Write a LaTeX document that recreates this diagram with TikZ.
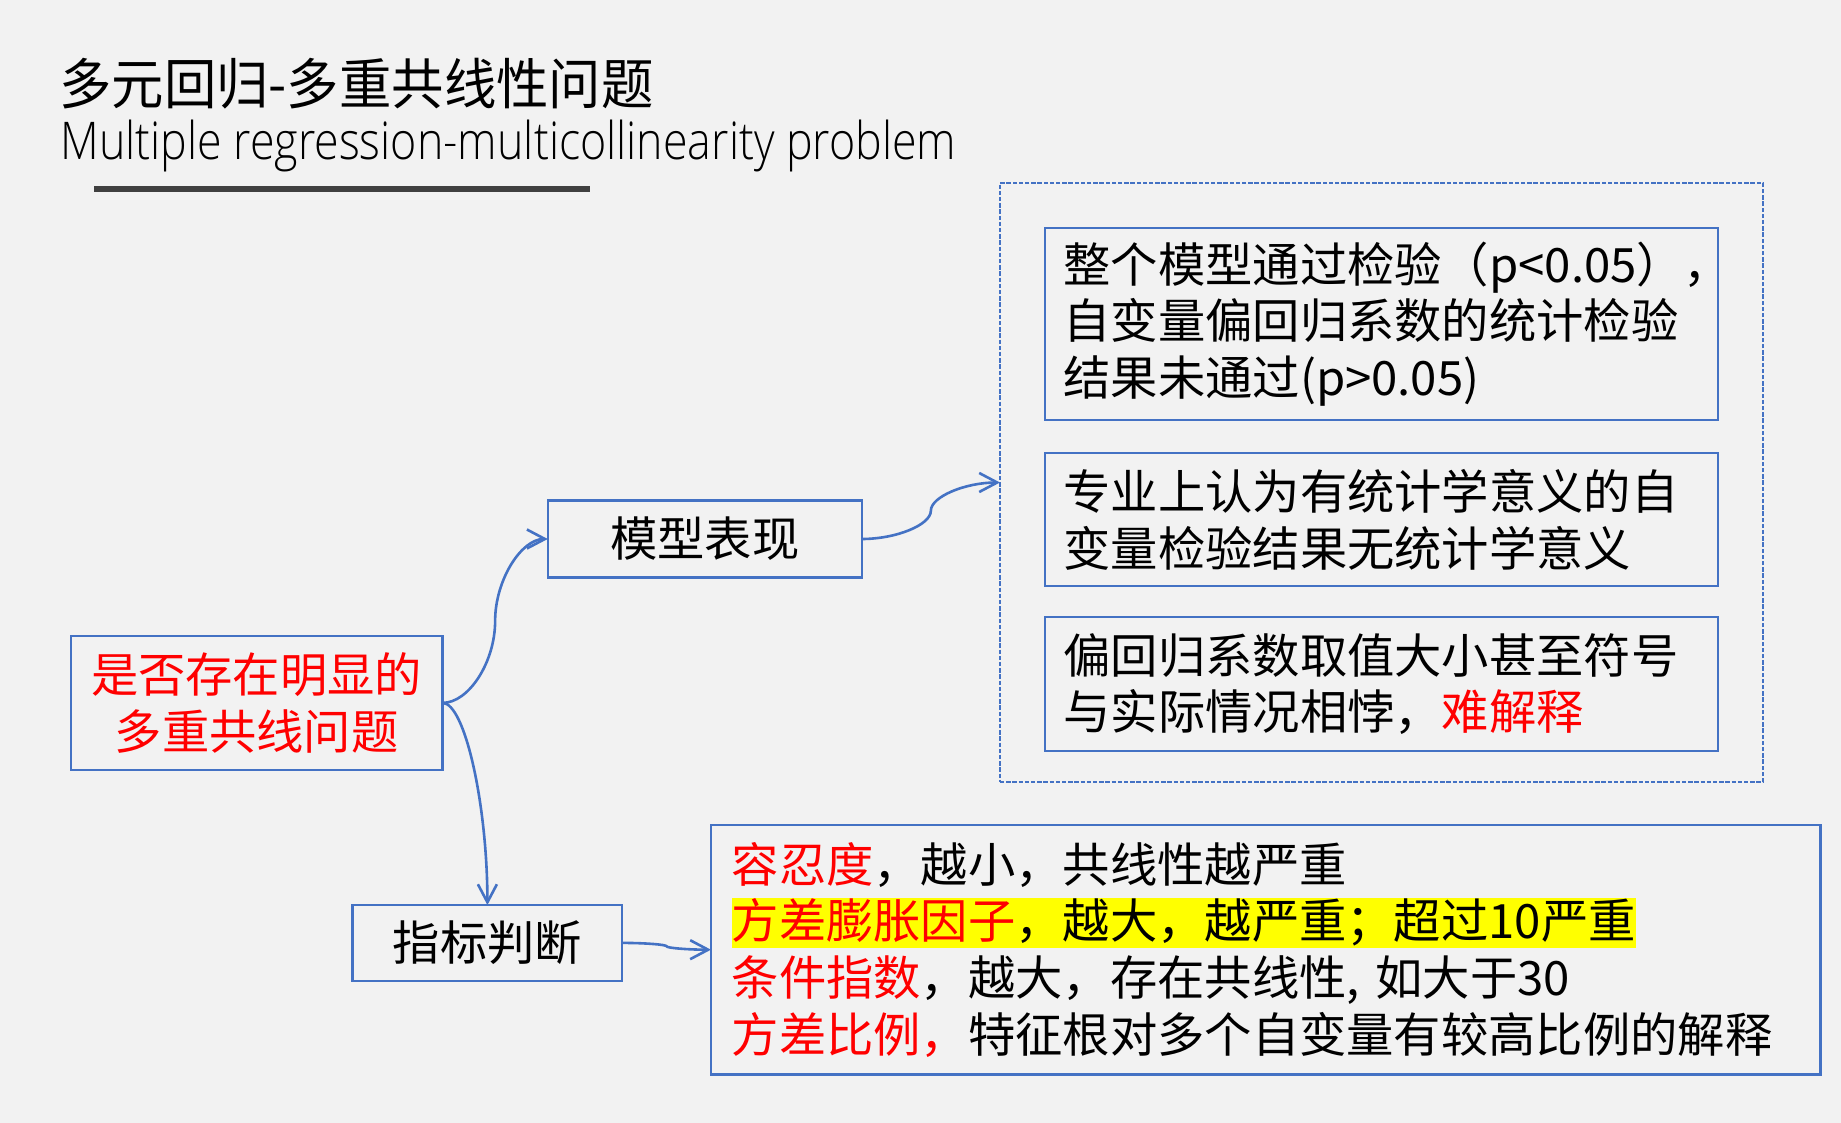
\documentclass[tikz,border=0pt]{standalone}
\usepackage{fontspec}
\usepackage{graphicx}
\setmainfont{Noto Sans CJK SC}
% a light Latin face for the English heading, regular sans otherwise
\IfFontExistsTF{Open Sans Light}
  {\newfontfamily\latinhead{Open Sans Light}}
  {\IfFontExistsTF{Lato Light}
    {\newfontfamily\latinhead{Lato Light}}
    {\IfFontExistsTF{Fira Sans Light}
      {\newfontfamily\latinhead{Fira Sans Light}}
      {\newfontfamily\latinhead{Noto Sans CJK SC}}}}
\usetikzlibrary{arrows.meta,calc}

\definecolor{pageback}{HTML}{F2F2F2}
\definecolor{linkblue}{HTML}{4472C4}
\definecolor{alertred}{HTML}{FF0000}
\definecolor{rulegray}{HTML}{404040}
\definecolor{marker}{HTML}{FFFF00}

\newcommand{\bodyfont}{\fontsize{23.65pt}{28.4pt}\selectfont}
\newcommand{\hlmark}[1]{{\setlength{\fboxsep}{0pt}\colorbox{marker}{\rule[-0.2em]{0pt}{1.06em}#1}}}

\begin{document}
\begin{tikzpicture}[x=0.5pt,y=-0.5pt,
  box/.style={draw=linkblue, line width=1.1pt, inner sep=0pt, outer sep=0pt,
    font=\bodyfont, text=black},
  frame/.style={draw=linkblue, line width=0.6pt, dash pattern=on 2.2pt off 0.9pt,
    inner sep=0pt, outer sep=0pt},
  link/.style={draw=linkblue, line width=1.3pt,
    -{Straight Barb[length=9pt,width=9.5pt]}},
]
% page
\fill[pageback] (0,0) rectangle (1841,1123);
\useasboundingbox (0,0) rectangle (1841,1123);

% heading
\node[anchor=west, inner sep=0pt, font=\fontsize{27.5pt}{30pt}\selectfont]
  (titlecn) at (59,84) {\resizebox{297pt}{\height}{多元回归-多重共线性问题}};
\node[anchor=base west, inner sep=0pt, font=\latinhead\fontsize{26pt}{30pt}\selectfont]
  (titleen) at (60,160) {\resizebox{448pt}{\height}{Multiple regression-multicollinearity problem}};
\draw[rulegray, line width=3pt] (94,189) -- (590,189);

% main question and the two branches
\node[box, text=alertred, align=center, minimum width=185.95pt, minimum height=67.15pt]
  (query) at (256.6,702.9) {是否存在明显的\\多重共线问题};
\node[box, minimum width=157pt, minimum height=38.5pt]
  (model) at (704.7,539) {模型表现};
\node[box, minimum width=134.9pt, minimum height=37.85pt]
  (index) at (487.4,942.9) {指标判断};

% symptoms of the fitted model
\node[frame, minimum width=381.5pt, minimum height=299.5pt] (frame) at (1381.5,482.5) {};
\node[box, minimum width=336.5pt, minimum height=96pt, text width=318pt, align=left]
  (symA) at (1381.5,324)
  {整个模型通过检验（p<0.05），\\自变量偏回归系数的统计检验\\结果未通过(p>0.05)};
\node[box, minimum width=336.5pt, minimum height=66.5pt, text width=318pt, align=left]
  (symB) at (1381.5,519.5)
  {专业上认为有统计学意义的自\\变量检验结果无统计学意义};
\node[box, minimum width=336.5pt, minimum height=67pt, text width=318pt, align=left]
  (symC) at (1381.5,684)
  {偏回归系数取值大小甚至符号\\与实际情况相悖，\textcolor{alertred}{难解释}};

% diagnostic indices
\node[box, minimum width=554.75pt, minimum height=124.75pt, text width=534pt, align=left]
  (symD) at (1265.7,949.7)
  {\textcolor{alertred}{容忍度}，越小，共线性越严重\\
   \hlmark{\textcolor{alertred}{方差膨胀因子}，越大，越严重；超过10严重}\\
   \textcolor{alertred}{条件指数}，越大，存在共线性, 如大于30\\
   \textcolor{alertred}{方差比例，}特征根对多个自变量有较高比例的解释};

% connectors
\draw[link] (query.east) .. controls +(26.3,0) and +(0,41) ..
  ($(query.east)!0.5!(model.west)$) .. controls +(0,-41) and +(-26.3,0) .. (model.west);
\draw[link] (query.east) .. controls +(22.4,0) and +(0,-100) .. (index.north);
\draw[link] (model.east) .. controls +(34.6,0) and +(0,14.1) ..
  ($(model.east)!0.5!(frame.west)$) .. controls +(0,-14.1) and +(-34.6,0) .. (frame.west);
\draw[link] (index.east) .. controls +(22.2,0) and +(0,-1.7) ..
  ($(index.east)!0.5!(symD.west)$) .. controls +(0,1.7) and +(-22.2,0) .. (symD.west);
\end{tikzpicture}
\end{document}
